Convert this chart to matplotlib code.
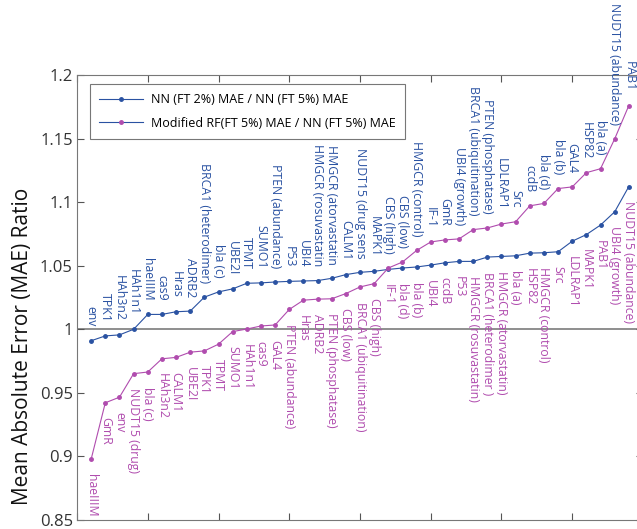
import numpy as np
import matplotlib
matplotlib.use("Agg")
import matplotlib.pyplot as plt
from matplotlib.lines import Line2D
from matplotlib.ticker import FixedLocator, FuncFormatter

plt.rcParams['font.family'] = ['Open Sans', 'DejaVu Sans']

BLUE = '#2a52a2'
PURPLE = '#b04cae'

# NN (FT 2%) / NN (FT 5%), sorted
nn_labels = ['env', 'TPK1', 'HAh3n2', 'HAh1n1', 'haeIIIM', 'cas9', 'Hras', 'ADRB2',
             'BRCA1 (heterodimer)', 'bla (c)', 'UBE2I', 'TPMT', 'SUMO1',
             'PTEN (abundance)', 'P53', 'UBI4', 'HMGCR (rosuvastatin',
             'HMGCR (atorvastatin', 'CALM1', 'NUDT15 (drug sens', 'MAPK1',
             'CBS (high)', 'CBS (low)', 'HMGCR (control)', 'IF-1', 'GmR',
             'UBI4 (growth)', 'BRCA1 (ubiquitination)', 'PTEN (phosphatase)',
             'LDLRAP1', 'Src', 'ccdB', 'bla (d)', 'bla (b)', 'GAL4', 'HSP82',
             'bla (a)', 'NUDT15 (abundance)', 'PAB1']
nn_ratio = [0.991, 0.9948, 0.9956, 1.000, 1.0117, 1.0117, 1.0138, 1.0143,
            1.0253, 1.0294, 1.0318, 1.0362, 1.0365, 1.0372, 1.0377, 1.038,
            1.0383, 1.0401, 1.043, 1.0448, 1.0456, 1.0471, 1.0482, 1.049,
            1.0505, 1.0523, 1.0534, 1.0534, 1.0568, 1.0573, 1.0578, 1.0599,
            1.0602, 1.061, 1.0693, 1.0745, 1.082, 1.0924, 1.1123]

# Modified RF (FT 5%) / NN (FT 5%), sorted
rf_labels = ['haeIIIM', 'GmR', 'env', 'NUDT15 (drug)', 'bla (c)', 'HAh3n2', 'CALM1',
             'UBE2I', 'TPK1', 'TPMT', 'SUMO1', 'HAh1n1', 'cas9', 'GAL4',
             'PTEN (abundance)', 'Hras', 'ADRB2', 'PTEN (phosphatase)', 'CBS (low)',
             'BRCA1 (ubiquitination)', 'CBS (high)', 'IF-1', 'bla (d)', 'bla (b)',
             'UBI4', 'ccdB', 'P53', 'HMGCR (rosuvastatin)', 'BRCA1 (heterodimer )',
             'HMGCR (atorvastatin)', 'bla (a)', 'HSP82', 'HMGCR (control)', 'Src',
             'LDLRAP1', 'MAPK1', 'PAB1', 'UBI4 (growth)', 'NUDT15 (abundance)']
rf_ratio = [0.8979, 0.9422, 0.9466, 0.9651, 0.9664, 0.9768, 0.9779, 0.982,
            0.983, 0.9883, 0.9982, 1.0002, 1.0026, 1.0034, 1.0156, 1.0229,
            1.0237, 1.024, 1.0281, 1.0333, 1.0359, 1.0482, 1.0529, 1.062,
            1.0687, 1.0703, 1.0711, 1.0784, 1.0797, 1.0828, 1.0846, 1.0971,
            1.099, 1.1107, 1.112, 1.1232, 1.1263, 1.1498, 1.176]

legend_labels = ['NN (FT 2%) MAE / NN (FT 5%) MAE',
                 'Modified RF(FT 5%) MAE / NN (FT 5%) MAE']
y_ticks = [0.85, 0.9, 0.95, 1.0, 1.05, 1.1, 1.15, 1.2]

fig = plt.figure(figsize=(6.37, 5.29), dpi=100)
# axes runs past the right edge of the figure, as in the original crop
ax = fig.add_axes([0.1209, 0.0170, 0.8885, 0.8412])

x = np.arange(1, len(nn_ratio) + 1)
ax.plot(x, nn_ratio, '-o', color=BLUE, lw=0.8, ms=2.5)
ax.plot(x, rf_ratio, '-o', color=PURPLE, lw=0.8, ms=2.5)
ax.axhline(1.0, color='#707070', lw=1.1, zorder=0)

# labels sit above the upper curve (blue) or below the lower curve (purple)
top = np.maximum(nn_ratio, rf_ratio)
bottom = np.minimum(nn_ratio, rf_ratio)
for xi, yi, lab in zip(x, top, nn_labels):
    ax.annotate(lab, (xi, yi), xytext=(0, 10), textcoords='offset points',
                rotation=270, ha='center', va='bottom', fontsize=8.8, color=BLUE)
for xi, yi, lab in zip(x, bottom, rf_labels):
    ax.annotate(lab, (xi, yi), xytext=(0, -10.5), textcoords='offset points',
                rotation=270, ha='center', va='top', fontsize=8.8, color=PURPLE)

ax.set_xlim(0, 40)
ax.set_ylim(0.85, 1.2)
ax.xaxis.set_major_locator(FixedLocator(np.arange(0, 41, 5)))
ax.set_xticklabels([])
ax.yaxis.set_major_locator(FixedLocator(y_ticks))
ax.yaxis.set_major_formatter(FuncFormatter(lambda v, p: '%g' % v))
ax.tick_params(direction='in', top=True, right=True, length=5, width=0.8,
               colors='#555555', labelsize=12, labelcolor='#333333', pad=3)
for s in ax.spines.values():
    s.set_color('#777777')
    s.set_linewidth(0.8)
ax.set_ylabel('Mean Absolute Error (MAE) Ratio', fontsize=15, color='#111111')
ax.yaxis.set_label_coords(-0.0778, 0.39)

# second legend entry keeps the blue line with a purple marker, like the original
handles = [Line2D([], [], color=BLUE, lw=0.8, marker='o', ms=2.5, mfc=BLUE, mec=BLUE),
           Line2D([], [], color=BLUE, lw=0.8, marker='o', ms=2.5, mfc=PURPLE, mec=PURPLE)]
leg = ax.legend(handles, legend_labels, loc='upper left', bbox_to_anchor=(0.023, 0.98),
                fontsize=9, frameon=True, fancybox=False, edgecolor='#555555',
                handlelength=3.5, handletextpad=0.6, borderpad=0.75,
                labelspacing=0.84, borderaxespad=0)
leg.get_frame().set_linewidth(0.8)

fig.savefig('out.png', dpi=100)
